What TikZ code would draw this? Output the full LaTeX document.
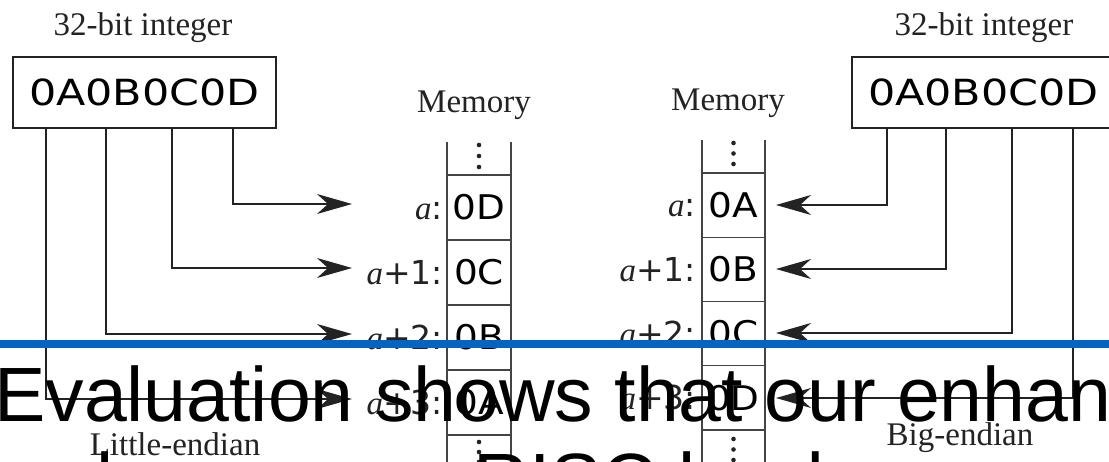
\documentclass[tikz,border=0pt]{standalone}
\usepackage{graphicx}
\usepackage{fontspec}
\setmainfont{Liberation Serif}
\newfontfamily\dvs{DejaVu Sans}
\newfontfamily\ars{Liberation Sans}
\usetikzlibrary{arrows.meta,calc}
\definecolor{bluebar}{RGB}{5,99,193}
\definecolor{ink}{RGB}{35,35,35}
\newcommand\hexwide[1]{\scalebox{1.19}[1]{#1}}
\newcommand\cellwide[1]{\scalebox{1.1}[1]{#1}}
\tikzset{
 lab/.style={font=\fontsize{33}{38}\selectfont, text=ink, inner sep=0, anchor=base},
 hexbox/.style={draw=ink, line width=1.6pt, minimum width=263pt, minimum height=71pt, inner sep=0, text=black, font=\dvs\fontsize{36}{40}\selectfont},
 cell/.style={draw=ink!85, line width=1.2pt, minimum width=64pt, minimum height=65pt, inner sep=0, text=black, font=\dvs\fontsize{34}{38}\selectfont},
 addr/.style={inner sep=0, anchor=base east, text=ink, font=\fontsize{33}{38}\selectfont},
 conn/.style={draw=ink, line width=1.8pt, -{Stealth[length=35pt,width=20pt,inset=11pt]}},
 side/.style={draw=ink!85, line width=1.2pt},
 overlay text/.style={inner sep=0, anchor=base west, text=black, font=\ars\fontsize{77}{88}\selectfont},
}
\begin{document}
\begin{tikzpicture}[x=1pt,y=-1pt]
\clip (0,0) rectangle (1109,461);
\fill[white] (0,0) rectangle (1109,461);

% ---------- little-endian ----------
\node[lab] (tl) at (143,35) {32-bit integer};
\node[hexbox] (LB) at (144.5,92.5) {\hexwide{0A0B0C0D}};
\node[lab] (ml) at (474,112) {Memory};
\draw[side] (447,142) -- (447,175) (511,142) -- (511,175);
\fill[ink] (479,145) circle (2.3pt) (479,156) circle (2.3pt) (479,167) circle (2.3pt);
\node[cell] (L0) at (479,207.5) {\cellwide{0D}};
\node[cell] (L1) at (479,272.5) {\cellwide{0C}};
\node[cell] (L2) at (479,337.5) {\cellwide{0B}};
\node[cell] (L3) at (479,402.5) {\cellwide{0A}};
\draw[side] (447,435) -- (447,470) (511,435) -- (511,470);
\fill[ink] (479,442) circle (2.3pt) (479,452) circle (2.3pt) (479,462) circle (2.3pt);
\node[addr] (al0) at (443,219) {\itshape a\upshape\dvs :};
\node[addr] (al1) at (443,284) {\itshape a\upshape\dvs +1:};
\node[addr] (al2) at (443,349) {\itshape a\upshape\dvs +2:};
\node[addr] (al3) at (443,414) {\itshape a\upshape\dvs +3:};
\coordinate (tl0) at (352,204);
\coordinate (tl1) at (352,268);
\coordinate (tl2) at (352,334);
\coordinate (tl3) at (352,399);
\draw[conn] ([xshift=221pt]LB.south west) |- (tl0);
\draw[conn] ([xshift=160pt]LB.south west) |- (tl1);
\draw[conn] ([xshift=94pt]LB.south west) |- (tl2);
\draw[conn] ([xshift=34pt]LB.south west) |- (tl3);
\node[lab] (le) at (175,455) {Little-endian};

% ---------- big-endian ----------
\node[lab] (tr) at (984,35) {32-bit integer};
\node[hexbox] (RB) at (983.5,92.5) {\hexwide{0A0B0C0D}};
\node[lab] (mr) at (728,110) {Memory};
\draw[side] (702,140) -- (702,173) (765,140) -- (765,173);
\fill[ink] (733.5,143) circle (2.3pt) (733.5,153.5) circle (2.3pt) (733.5,164) circle (2.3pt);
\node[cell, minimum width=63pt, minimum height=64.25pt] (R0) at (733.5,205.1) {\cellwide{0A}};
\node[cell, minimum width=63pt, minimum height=64.25pt] (R1) at (733.5,269.4) {\cellwide{0B}};
\node[cell, minimum width=63pt, minimum height=64.25pt] (R2) at (733.5,333.6) {\cellwide{0C}};
\node[cell, minimum width=63pt, minimum height=64.25pt] (R3) at (733.5,397.9) {\cellwide{0D}};
\draw[side] (702,430) -- (702,470) (765,430) -- (765,470);
\fill[ink] (733.5,439) circle (2.3pt) (733.5,449.5) circle (2.3pt) (733.5,460) circle (2.3pt);
\node[addr] (ar0) at (696,216.5) {\itshape a\upshape\dvs :};
\node[addr] (ar1) at (696,281) {\itshape a\upshape\dvs +1:};
\node[addr] (ar2) at (696,345) {\itshape a\upshape\dvs +2:};
\node[addr] (ar3) at (696,409.5) {\itshape a\upshape\dvs +3:};
\coordinate (tr0) at (776,205);
\coordinate (tr1) at (776,269);
\coordinate (tr2) at (776,333);
\coordinate (tr3) at (776,398);
\draw[conn] ([xshift=36pt]RB.south west) |- (tr0);
\draw[conn] ([xshift=95pt]RB.south west) |- (tr1);
\draw[conn] ([xshift=161pt]RB.south west) |- (tr2);
\draw[conn] ([xshift=222pt]RB.south west) |- (tr3);
\node[lab] (be) at (960,445) {Big-endian};

% ---------- overlay ----------
\fill[bluebar] (0,340) rectangle (1109,348);
\node[overlay text] (ov1) at (-6,421) {Evaluation shows that our enhanced};
\node[overlay text] (ov2) at (-6,507) {ce lower on a RISC loads, some benchmarks};
\end{tikzpicture}
\end{document}
